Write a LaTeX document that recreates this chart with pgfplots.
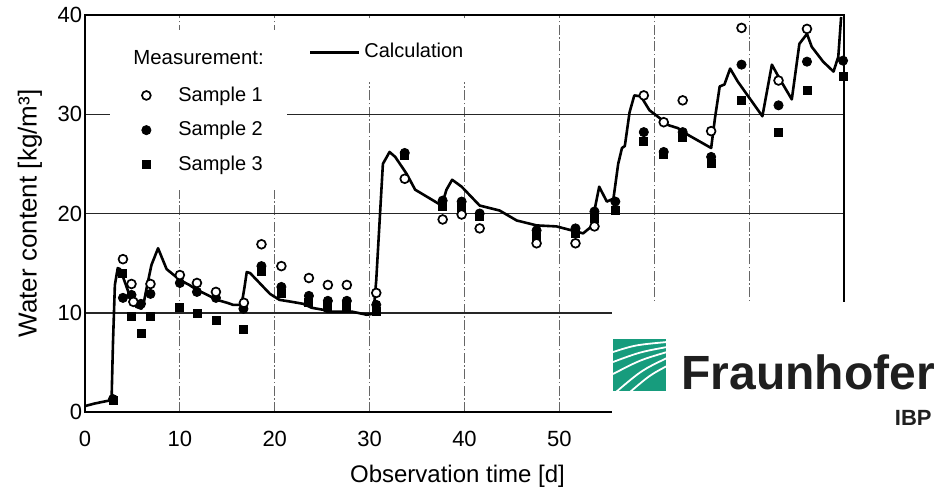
\documentclass[border=0pt]{standalone}
\usepackage{fontspec}
\setmainfont{Liberation Sans}
\usepackage{pgfplots}
\pgfplotsset{compat=1.18}
\definecolor{fhgreen}{HTML}{179C7D}

\pgfplotstableread{
x y
0 0.6
1 0.85
2 1.05
2.8 1.2
2.95 7.0
3.15 12.8
3.45 14.5
3.7 14.4
4.2 13.1
4.75 11.6
5.4 10.6
5.95 10.4
6.15 10.8
6.5 12.5
7.0 14.8
7.7 16.5
8.6 14.4
10.0 13.3
11.0 12.8
11.8 12.3
12.9 11.8
13.9 11.3
15.0 11.0
15.6 10.8
16.5 10.8
16.8 12.5
17.05 14.1
17.4 14.0
18.4 13.0
19.5 11.9
20.5 11.3
21.8 11.1
23.0 10.9
23.9 10.5
25.1 10.3
25.5 10.1
28.2 10.1
29.7 9.8
30.4 9.9
30.7 13.3
31.1 20.0
31.4 25.0
32.1 26.2
32.7 25.7
33.9 24.0
34.8 22.4
37.6 20.8
38.1 22.4
38.7 23.4
39.7 22.7
41.4 21.0
41.6 20.8
43.7 20.3
45.5 19.3
47.6 18.8
49.7 18.7
51.7 18.2
52.5 18.0
53.4 18.7
53.7 20.3
54.2 22.7
55.0 21.2
55.7 21.5
56.2 25.0
56.6 26.6
56.9 26.8
57.4 30.2
57.9 31.9
58.6 31.8
59.5 30.4
60.6 29.6
61.5 28.9
62.5 28.6
63.6 27.9
66.0 26.6
66.4 29.6
66.9 32.8
67.4 33.0
68.0 34.6
68.8 33.3
71.4 29.8
72.4 35.0
73.2 33.6
74.5 31.5
75.3 37.1
76.1 38.1
76.6 36.8
77.8 35.3
78.9 34.3
79.4 35.8
79.7 39.8
}\calc

\pgfplotstableread{
x y
4.0 15.4
4.9 12.9
5.1 11.1
6.9 12.9
10.0 13.8
11.8 13.0
13.8 12.1
16.75 11.0
18.6 16.9
20.7 14.7
23.6 13.5
25.6 12.8
27.6 12.8
30.7 12.0
33.7 23.5
37.7 19.4
39.7 19.9
41.6 18.5
47.6 17.0
51.7 17.0
53.7 18.7
58.9 31.9
61.0 29.2
63.0 31.4
66.0 28.3
69.2 38.7
73.1 33.4
76.1 38.6
}\sone

\pgfplotstableread{
x y
2.95 1.3
4.0 11.5
4.9 11.8
5.9 10.9
6.9 11.9
10.0 13.0
11.8 12.1
13.8 11.5
16.7 10.4
18.6 14.7
20.7 12.6
23.6 11.7
25.6 11.2
27.6 11.2
30.7 10.8
33.7 26.1
37.7 21.3
39.7 21.2
41.6 20.0
47.6 18.3
51.7 18.5
53.7 20.2
55.9 21.2
58.9 28.2
61.0 26.2
63.0 28.2
66.0 25.7
69.2 35.0
73.1 30.9
76.1 35.3
79.9 35.4
}\stwo

\pgfplotstableread{
x y
2.95 1.2
3.9 14.0
4.9 9.6
5.9 7.9
6.9 9.6
10.0 10.5
11.8 9.9
13.8 9.2
16.7 8.3
18.6 14.2
20.7 12.0
23.6 11.0
25.6 10.6
27.6 10.6
30.7 10.1
33.7 25.9
37.7 20.7
39.7 20.6
41.6 19.7
47.6 17.7
51.7 18.0
53.7 19.5
55.9 20.3
58.9 27.3
61.0 26.0
63.0 27.7
66.0 25.0
69.2 31.4
73.1 28.2
76.1 32.4
79.9 33.8
}\sthree

\begin{document}
\begin{tikzpicture}
\useasboundingbox (-42.5pt,-41.5pt) rectangle (432.5pt,206pt);
\begin{axis}[
  at={(0,0)}, anchor=south west, scale only axis,
  width=379.5pt, height=198.5pt,
  xmin=0, xmax=80, ymin=0, ymax=40,
  xtick={0,10,...,80}, ytick={0,10,...,40},
  tick style={draw=none},
  xmajorgrids, ymajorgrids,
  x grid style={black!60, line width=0.55pt, dash pattern=on 5pt off 1.2pt on 0.8pt off 1.2pt},
  y grid style={black!85, line width=0.75pt},
  axis line style={black, line width=1.4pt},
  ticklabel style={font=\fontsize{11}{13}\selectfont},
  /pgf/number format/assume math mode=true,
  xticklabel style={yshift=-5.8pt},
  yticklabel style={xshift=2.1pt},
  xlabel={Observation time [d]},
  ylabel={Water content [kg/m³]},
  xlabel style={at={(axis description cs:0.4908,-0.163)}, anchor=center, font=\fontsize{12}{14}\selectfont},
  ylabel style={at={(axis description cs:-0.0725,0.5)}, anchor=center, font=\fontsize{13}{15}\selectfont},
  legend style={at={(axis cs:5.9,28.4)}, anchor=west, draw=none, fill=none, inner sep=0pt,
    font=\fontsize{10}{12}\selectfont, row sep=4.6pt},
  legend cell align=left,
  reverse legend,
  legend image code/.code={\path[draw=none,fill=none] (-2.5pt,-2pt) rectangle (14pt,2pt); \draw[#1] plot coordinates {(0pt,0pt)};},
]
\fill[white] (axis cs:2.63,22.4) rectangle (axis cs:21.3,38.5);
\fill[white] (axis cs:22.1,33.2) rectangle (axis cs:41.4,39.6);
\addplot[black, line width=1.3pt, line join=round, forget plot] table[x=x,y=y] {\calc};
\addplot[only marks, mark=square*, mark size=2pt, black] table[x=x,y=y] {\sthree};
\addlegendentry{Sample 3}
\addplot[only marks, mark=*, mark size=2.3pt, black] table[x=x,y=y] {\stwo};
\addlegendentry{Sample 2}
\addplot[only marks, mark=*, mark size=2.2pt, mark options={draw=black, fill=white, line width=0.85pt}] table[x=x,y=y] {\sone};
\addlegendentry{Sample 1}
\end{axis}
\begin{axis}[
  at={(0,0)}, anchor=south west, scale only axis,
  width=379.5pt, height=198.5pt,
  xmin=0, xmax=80, ymin=0, ymax=40, hide axis,
  legend style={at={(axis cs:23.55,36.25)}, anchor=west, draw=none, fill=none, inner sep=0pt,
    font=\fontsize{10}{12}\selectfont},
  legend image code/.code={\draw[#1] (0pt,0pt) -- (24.5pt,0pt);},
]
\addlegendimage{black, line width=1.3pt}
\addlegendentry{Calculation}
\end{axis}
\begin{scope}[x=0.5pt,y=-0.5pt,shift={(-42.5pt,206pt)}]
\draw[black, line width=1.4pt] (85,15) rectangle (844,412);
\node[anchor=base west, inner sep=0pt, font=\fontsize{10.2}{12}\selectfont] at (133,64) {Measurement:};
\fill[white] (612,302) rectangle (951,496);
\fill[fhgreen] (613,339) rectangle (666,391);
\begin{scope}
\clip (613,339) rectangle (666,391);
\draw[white, line width=0.9pt] (613,352) .. controls (635,345) .. (667,342);
\draw[white, line width=0.9pt] (613,362) .. controls (640,352) .. (667,347);
\draw[white, line width=0.9pt] (613,374) .. controls (640,360) .. (667,352);
\draw[white, line width=0.9pt] (616,392) .. controls (642,370) .. (667,358);
\draw[white, line width=0.9pt] (630,392) .. controls (650,375) .. (667,366);
\end{scope}
\node[anchor=base west, inner sep=0pt, font=\fontsize{24}{27}\selectfont\bfseries, text=black!88] at (681,389) {Fraunhofer};
\node[anchor=base east, inner sep=0pt, font=\fontsize{11}{13}\selectfont\bfseries, text=black!88] at (932,425) {IBP};
\end{scope}
\end{tikzpicture}
\end{document}
